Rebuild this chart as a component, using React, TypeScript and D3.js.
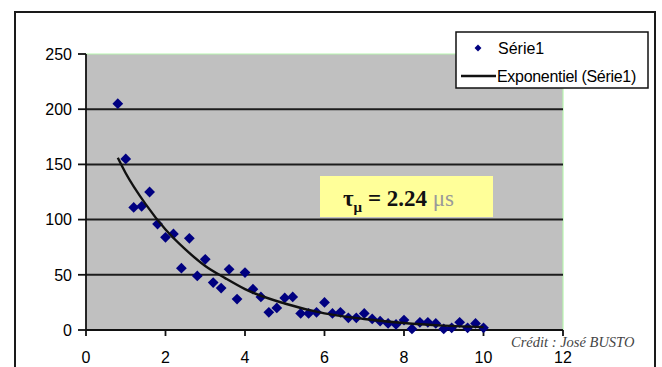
import { useEffect, useRef } from "react";
import * as d3 from "d3";

// Measured points (Série1)
const seriesX = [
  0.8, 1.0, 1.2, 1.4, 1.6, 1.8, 2.0, 2.2, 2.4, 2.6, 2.8, 3.0, 3.2, 3.4, 3.6,
  3.8, 4.0, 4.2, 4.4, 4.6, 4.8, 5.0, 5.2, 5.4, 5.6, 5.8, 6.0, 6.2, 6.4, 6.6,
  6.8, 7.0, 7.2, 7.4, 7.6, 7.8, 8.0, 8.2, 8.4, 8.6, 8.8, 9.0, 9.2, 9.4, 9.6,
  9.8, 10.0,
];
const seriesY = [
  205, 155, 111, 112, 125, 96, 84, 87, 56, 83, 49, 64, 43, 38, 55, 28, 52, 37,
  30, 16, 20, 29, 30, 15, 15, 16, 25, 15, 16, 11, 11, 15, 10, 8, 6, 5, 9, 1, 7,
  7, 6, 1, 2, 7, 2, 6, 2,
];

// Exponential trendline
const trendX = [0.8, 1, 1.5, 2, 2.5, 3, 3.5, 4, 5, 6, 7, 8, 9, 10];
const trendY = [156, 142, 114, 91, 73, 58, 47, 37, 24, 15, 10, 6.3, 4, 2.6];

const xTicks = [0, 2, 4, 6, 8, 10, 12];
const yTicks = [0, 50, 100, 150, 200, 250];

const seriesName = "Série1";
const trendName = "Exponentiel (Série1)";
const credit = "Crédit : José BUSTO";

const W = 662;
const H = 367;
const sans = "'Liberation Sans', Arial, sans-serif";
const serif = "'Liberation Serif', 'Times New Roman', serif";

export default function App() {
  const svgRef = useRef<SVGSVGElement>(null);

  useEffect(() => {
    if (!svgRef.current) return;
    const svg = d3.select(svgRef.current);
    svg.selectAll("*").remove();

    const x = d3.scaleLinear().domain([0, 12]).range([86, 563]);
    const y = d3.scaleLinear().domain([0, 250]).range([330, 54]);

    svg.append("rect").attr("width", W).attr("height", H).attr("fill", "#fff");

    // outer chart frame
    svg
      .append("rect")
      .attr("x", 15)
      .attr("y", 12)
      .attr("width", 640)
      .attr("height", 370)
      .attr("fill", "#fff")
      .attr("stroke", "#1a1a1a")
      .attr("stroke-width", 2);

    // plot area
    svg
      .append("rect")
      .attr("x", x(0))
      .attr("y", y(250))
      .attr("width", x(12) - x(0))
      .attr("height", y(0) - y(250))
      .attr("fill", "#c0c0c0");

    // light green edges (top / right)
    svg
      .append("path")
      .attr("d", `M${x(0)},${y(250)}H${x(12)}V${y(0)}`)
      .attr("fill", "none")
      .attr("stroke", "#b8f5b0")
      .attr("stroke-width", 1.2);

    // grid lines
    svg
      .append("g")
      .selectAll("line")
      .data(yTicks.filter((t) => t > 0 && t < 250))
      .join("line")
      .attr("x1", x(0))
      .attr("x2", x(12))
      .attr("y1", (d) => y(d))
      .attr("y2", (d) => y(d))
      .attr("stroke", "#1c1c1c")
      .attr("stroke-width", 2);

    // y axis
    const gy = svg.append("g");
    gy.append("line")
      .attr("x1", x(0))
      .attr("x2", x(0))
      .attr("y1", y(250))
      .attr("y2", y(0))
      .attr("stroke", "#111")
      .attr("stroke-width", 1.8);
    gy.selectAll("line.tick")
      .data(yTicks)
      .join("line")
      .attr("class", "tick")
      .attr("x1", x(0) - 8)
      .attr("x2", x(0))
      .attr("y1", (d) => y(d))
      .attr("y2", (d) => y(d))
      .attr("stroke", "#111")
      .attr("stroke-width", 1.8);
    gy.selectAll("text")
      .data(yTicks)
      .join("text")
      .attr("x", 72)
      .attr("y", (d) => y(d))
      .attr("dy", "0.36em")
      .attr("text-anchor", "end")
      .attr("font-family", sans)
      .attr("font-size", 16)
      .attr("fill", "#000")
      .text((d) => d);

    // x axis
    const gx = svg.append("g");
    gx.append("line")
      .attr("x1", x(0))
      .attr("x2", x(12))
      .attr("y1", y(0))
      .attr("y2", y(0))
      .attr("stroke", "#111")
      .attr("stroke-width", 2);
    gx.selectAll("line.tick")
      .data(xTicks)
      .join("line")
      .attr("class", "tick")
      .attr("x1", (d) => x(d))
      .attr("x2", (d) => x(d))
      .attr("y1", y(0))
      .attr("y2", y(0) + 6)
      .attr("stroke", "#111")
      .attr("stroke-width", 1.8);
    gx.selectAll("text")
      .data(xTicks)
      .join("text")
      .attr("x", (d) => x(d))
      .attr("y", 363)
      .attr("text-anchor", "middle")
      .attr("font-family", sans)
      .attr("font-size", 16)
      .attr("fill", "#000")
      .text((d) => d);

    // data points: square diamonds (Excel style)
    const marker = d3.symbol(d3.symbolSquare, 58);
    svg
      .append("g")
      .selectAll("path")
      .data(seriesX.map((v, i) => [v, seriesY[i]]))
      .join("path")
      .attr("transform", (d) => `translate(${x(d[0])},${y(d[1])}) rotate(45)`)
      .attr("d", marker)
      .attr("fill", "#000080");

    // trendline
    const line = d3
      .line<number>()
      .x((d) => x(d))
      .y((_, i) => y(trendY[i]))
      .curve(d3.curveMonotoneX);
    svg
      .append("path")
      .datum(trendX)
      .attr("d", line)
      .attr("fill", "none")
      .attr("stroke", "#111")
      .attr("stroke-width", 2.4);

    // tau annotation
    svg
      .append("rect")
      .attr("x", 320)
      .attr("y", 176)
      .attr("width", 173)
      .attr("height", 41)
      .attr("fill", "#ffff99");
    const tau = svg
      .append("text")
      .attr("x", 343)
      .attr("y", 206)
      .attr("font-family", serif)
      .attr("font-size", 23)
      .attr("font-weight", "bold")
      .attr("fill", "#111");
    tau.append("tspan").text("τ");
    tau.append("tspan").attr("dy", 6).attr("font-size", 15).text("μ");
    tau.append("tspan").attr("dy", -6).text(" = 2.24 ");
    tau
      .append("tspan")
      .attr("font-weight", "normal")
      .attr("fill", "#9a9a9a")
      .text("μs");

    // legend
    const lg = svg.append("g");
    lg.append("rect")
      .attr("x", 456)
      .attr("y", 32)
      .attr("width", 192)
      .attr("height", 56)
      .attr("fill", "#fff")
      .attr("stroke", "#111")
      .attr("stroke-width", 1.5);
    lg.append("path")
      .attr("transform", "translate(478,48) rotate(45)")
      .attr("d", d3.symbol(d3.symbolSquare, 24))
      .attr("fill", "#000080");
    lg.append("text")
      .attr("x", 498)
      .attr("y", 48)
      .attr("dy", "0.36em")
      .attr("font-family", sans)
      .attr("font-size", 16)
      .attr("fill", "#000")
      .text(seriesName);
    lg.append("line")
      .attr("x1", 461)
      .attr("x2", 496)
      .attr("y1", 76)
      .attr("y2", 76)
      .attr("stroke", "#111")
      .attr("stroke-width", 2.4);
    lg.append("text")
      .attr("x", 497)
      .attr("y", 76)
      .attr("dy", "0.36em")
      .attr("font-family", sans)
      .attr("font-size", 16)
      .attr("letter-spacing", -0.3)
      .attr("fill", "#000")
      .text(trendName);

    // credit
    svg
      .append("text")
      .attr("x", 511)
      .attr("y", 347)
      .attr("font-family", serif)
      .attr("font-style", "italic")
      .attr("font-size", 14.5)
      .attr("fill", "#444")
      .text(credit);
  }, []);

  return (
    <svg
      ref={svgRef}
      width={W}
      height={H}
      viewBox={`0 0 ${W} ${H}`}
      style={{ position: "absolute", left: 0, top: 0 }}
    />
  );
}
